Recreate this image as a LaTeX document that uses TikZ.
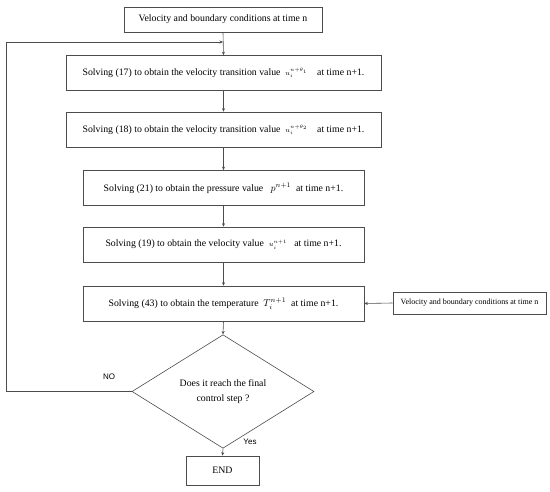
\documentclass[tikz,border=0pt]{standalone}
\usepackage{amsmath}
\usepackage{fontspec}
\setmainfont{Liberation Serif}
\newfontfamily\labelfont{Liberation Sans}
\usepackage{tikz}
\usetikzlibrary{positioning,calc,arrows.meta,shapes.geometric}
\tikzset{
  figfont/.style={font=\fontsize{9.8}{12}\selectfont},
  flowbox/.style={draw=black!70, line width=0.6pt, align=center, inner sep=2pt},
  widebox/.style={flowbox, minimum width=315pt, minimum height=35pt},
  narrowbox/.style={flowbox, minimum width=281pt, minimum height=35pt},
  checkbox/.style={draw=black!70, line width=0.6pt, diamond, align=center, inner sep=0pt, minimum width=182pt, minimum height=87pt},
  flowarrow/.style={-{Stealth[length=3.5pt,width=3pt]}, line width=0.6pt, draw=black!70},
  branchlabel/.style={font=\labelfont\fontsize{8}{10}\selectfont},
}
\begin{document}
\begin{tikzpicture}[x=1pt, y=1pt, figfont]
		\useasboundingbox (0,0) rectangle (550,-492);
		% Main chain of steps
		\node[flowbox, minimum width=198pt, minimum height=25pt] (start) at (223,-19.5) {Velocity and boundary conditions at time n};
		\node[widebox] (s17) at (223.5,-73) {Solving (17) to obtain the velocity transition value\ \ $\scriptstyle u_i^{n+\theta_1}$\quad at time n+1.};
		\node[widebox] (s18) at (223.5,-129.5) {Solving (18) to obtain the velocity transition value\ \ $\scriptstyle u_i^{n+\theta_2}$\quad at time n+1.};
		\node[narrowbox] (s21) at (223.5,-188) {Solving (21) to obtain the pressure value\ \ \ $p^{n+1}$\ \ at time n+1.};
		\node[narrowbox] (s19) at (223.5,-244.5) {Solving (19) to obtain the velocity value\ \ $\scriptstyle u_i^{n+1}$\ \ \ at time n+1.};
		\node[narrowbox] (s43) at (223.5,-303.5) {Solving (43) to obtain the temperature\ \ $T_i^{n+1}$\ \ at time n+1.};
		\node[checkbox] (check) at (223,-391.5) {\raisebox{-9pt}{\begin{tabular}{@{}c@{}}Does it reach the final\\[3pt] control step ?\end{tabular}}};
		\node[flowbox, minimum width=73pt, minimum height=29pt] (stop) at (222.5,-470.5) {END};

		% Side input
		\node[flowbox, minimum width=153pt, minimum height=22pt, font=\fontsize{8}{10}\selectfont] (cond) at (469.5,-303) {Velocity and boundary conditions at time n};

		% Connectors
		\coordinate (loopin) at (223,-42);
		\coordinate (loopa) at (6,-391.5);
		\coordinate (loopb) at (6,-42);
		\draw[flowarrow] (start.south) -- (s17.north);
		\draw[flowarrow] (s17) -- (s18);
		\draw[flowarrow] (s18) -- (s21);
		\draw[flowarrow] (s21) -- (s19);
		\draw[flowarrow] (s19) -- (s43);
		\draw[flowarrow] (s43.south) -- (check.north);
		\draw[flowarrow] (check.south) -- (stop.north);
		\draw[flowarrow] (cond.west) -- (s43.east);
		\draw[flowarrow] (check.west) -- (loopa) -- (loopb) -- (loopin);

		% Branch labels
		\node[branchlabel] (nolabel) at (109,-377) {NO};
		\node[branchlabel] (yeslabel) at (250,-442) {Yes};
	\end{tikzpicture}
\end{document}
